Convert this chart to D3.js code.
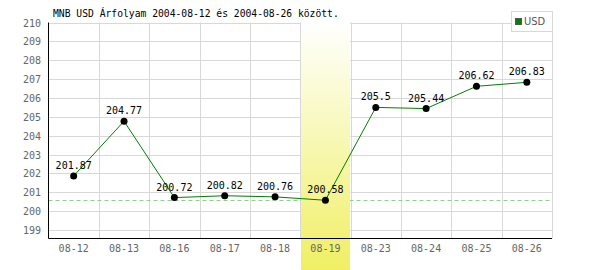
<!DOCTYPE html>
<html>
<head>
<meta charset="utf-8">
<script src="https://cdn.jsdelivr.net/npm/d3@7"></script>
<style>
  body { margin: 0; background: #fff; }
  svg { display: block; }
  text { font-family: "DejaVu Sans Mono", "Liberation Mono", monospace; }
</style>
</head>
<body>
<div id="chart"></div>
<script>
var dates = ["08-12", "08-13", "08-16", "08-17", "08-18", "08-19", "08-23", "08-24", "08-25", "08-26"];
var usd = [201.87, 204.77, 200.72, 200.82, 200.76, 200.58, 205.5, 205.44, 206.62, 206.83];
var yTicks = [199, 200, 201, 202, 203, 204, 205, 206, 207, 208, 209, 210];
var title = "MNB USD Árfolyam 2004-08-12 és 2004-08-26 között.";

var width = 600, height = 270;
var margin = { top: 22.5, right: 48, bottom: 32, left: 48.5 };

var svg = d3.select("#chart").append("svg")
    .attr("width", width)
    .attr("height", height);

var x = d3.scaleBand()
    .domain(dates)
    .range([margin.left, width - margin.right]);

var minVal = d3.min(usd);
var y = d3.scaleLinear()
    .domain([minVal - 2, d3.max(yTicks)])
    .range([height - margin.bottom, margin.top]);

// gradient for the minimum highlight
var defs = svg.append("defs");
var grad = defs.append("linearGradient")
    .attr("id", "hl")
    .attr("x1", 0).attr("y1", 0).attr("x2", 0).attr("y2", 1);
grad.append("stop").attr("offset", "0%").attr("stop-color", "#ffffff");
grad.append("stop").attr("offset", "100%").attr("stop-color", "#f0ef64");

// grid
svg.append("g")
    .selectAll("line")
    .data(yTicks)
    .enter()
    .append("line")
    .attr("x1", margin.left)
    .attr("x2", width - margin.right)
    .attr("y1", function (d) { return Math.round(y(d)) + 0.5; })
    .attr("y2", function (d) { return Math.round(y(d)) + 0.5; })
    .style("stroke", "#d8d8d8");

svg.append("g")
    .selectAll("line")
    .data(dates)
    .enter()
    .append("line")
    .attr("x1", function (d) { return Math.round(x(d) + x.bandwidth()) + 0.5; })
    .attr("x2", function (d) { return Math.round(x(d) + x.bandwidth()) + 0.5; })
    .attr("y1", margin.top)
    .attr("y2", height - margin.bottom)
    .style("stroke", "#d8d8d8");

// minimum reference line
svg.append("line")
    .attr("x1", margin.left)
    .attr("x2", width - margin.right)
    .attr("y1", Math.round(y(minVal)) + 0.5)
    .attr("y2", Math.round(y(minVal)) + 0.5)
    .style("stroke", "#8fd08f")
    .style("stroke-dasharray", "4,3");

// highlight band on the lowest day
var minDate = dates[usd.indexOf(minVal)];
svg.append("rect")
    .attr("x", Math.round(x(minDate)) + 1)
    .attr("y", margin.top)
    .attr("width", Math.round(x.bandwidth()) - 1)
    .attr("height", height - margin.top)
    .style("fill", "url(#hl)");

// axes
svg.append("line")
    .attr("x1", margin.left).attr("x2", margin.left)
    .attr("y1", margin.top).attr("y2", height - margin.bottom + 0.5)
    .style("stroke", "#000");
svg.append("line")
    .attr("x1", margin.left).attr("x2", width - margin.right)
    .attr("y1", height - margin.bottom + 0.5).attr("y2", height - margin.bottom + 0.5)
    .style("stroke", "#000");

svg.append("g")
    .selectAll("text")
    .data(yTicks)
    .enter()
    .append("text")
    .attr("x", 41)
    .attr("y", function (d) { return y(d) + 4; })
    .attr("text-anchor", "end")
    .style("font-size", "10px")
    .style("fill", "#666")
    .text(function (d) { return d; });

svg.append("g")
    .selectAll("text")
    .data(dates)
    .enter()
    .append("text")
    .attr("x", function (d) { return x(d) + x.bandwidth() / 2; })
    .attr("y", 252)
    .attr("text-anchor", "middle")
    .style("font-size", "10px")
    .style("fill", "#666")
    .text(function (d) { return d; });

// series
var line = d3.line()
    .x(function (d, i) { return x(dates[i]) + x.bandwidth() / 2; })
    .y(function (d) { return y(d); });

svg.append("path")
    .datum(usd)
    .attr("d", line)
    .style("fill", "none")
    .style("stroke", "#008000")
    .style("stroke-width", 1);

svg.append("g")
    .selectAll("circle")
    .data(usd)
    .enter()
    .append("circle")
    .attr("cx", function (d, i) { return x(dates[i]) + x.bandwidth() / 2; })
    .attr("cy", function (d) { return y(d); })
    .attr("r", 3.5)
    .style("fill", "#000");

svg.append("g")
    .selectAll("text")
    .data(usd)
    .enter()
    .append("text")
    .attr("x", function (d, i) { return x(dates[i]) + x.bandwidth() / 2; })
    .attr("y", function (d) { return y(d) - 7; })
    .attr("text-anchor", "middle")
    .style("font-size", "10px")
    .style("fill", "#000")
    .text(function (d) { return d; });

// title
svg.append("text")
    .attr("x", 53)
    .attr("y", 17)
    .style("font-size", "9.7px")
    .style("fill", "#000")
    .text(title);

// legend
var legend = svg.append("g");
legend.append("rect")
    .attr("x", 511.5).attr("y", 11.5)
    .attr("width", 41).attr("height", 20)
    .style("fill", "#fff")
    .style("stroke", "#d8d8d8");
legend.append("rect")
    .attr("x", 515.5).attr("y", 18.5)
    .attr("width", 6).attr("height", 6)
    .style("fill", "#008000")
    .style("stroke", "#555");
legend.append("text")
    .attr("x", 524)
    .attr("y", 25)
    .style("font-family", "'Liberation Sans Narrow', 'DejaVu Sans Condensed', sans-serif")
    .style("font-size", "11px")
    .style("fill", "#555")
    .text("USD");
</script>
</body>
</html>
